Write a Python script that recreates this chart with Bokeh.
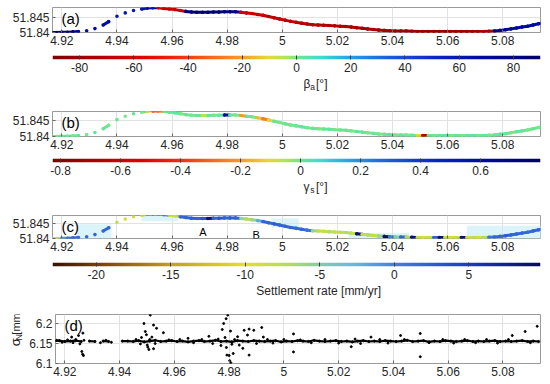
import numpy as np
from bokeh.plotting import figure
from bokeh.layouts import column, row
from bokeh.models import (LinearColorMapper, FixedTicker, CustomJSTickFormatter,
                          Label, Range1d, ColumnDataSource)
from bokeh.core.properties import value
from bokeh.transform import transform
from bokeh.embed import file_html
from bokeh.resources import INLINE

FONT = "Liberation Sans"
TXT = "#262626"

# ---------------- data ----------------
lon = [4.916, 4.918, 4.920, 4.922, 4.924, 4.926, 4.929, 4.932, 4.935, 4.937,
       4.940, 4.943, 4.946, 4.949, 4.951, 4.953, 4.955, 4.957, 4.959, 4.961,
       4.963, 4.965, 4.967, 4.969, 4.971, 4.973, 4.975, 4.977, 4.979, 4.981,
       4.983, 4.985, 4.987, 4.989, 4.991, 4.993, 4.995, 4.997, 4.999, 5.001,
       5.003, 5.005, 5.007, 5.009, 5.011, 5.013, 5.015, 5.017, 5.019, 5.021,
       5.023, 5.025, 5.027, 5.029, 5.031, 5.033, 5.035, 5.037, 5.039, 5.041,
       5.043, 5.045, 5.047, 5.049, 5.051, 5.053, 5.055, 5.057, 5.059, 5.061,
       5.063, 5.065, 5.067, 5.069, 5.071, 5.073, 5.075, 5.077, 5.079, 5.081,
       5.083, 5.085, 5.087, 5.089, 5.091, 5.093, 5.095]

lat = [51.8400, 51.8400, 51.8401, 51.8401, 51.8402, 51.8403, 51.8406, 51.8413, 51.8425, 51.8436,
       51.8454, 51.8465, 51.8473, 51.8478, 51.8481, 51.8482, 51.8482, 51.8480, 51.8478, 51.8476,
       51.8473, 51.8470, 51.8468, 51.8467, 51.8467, 51.8467, 51.8468, 51.8468, 51.8469, 51.8469,
       51.8469, 51.8467, 51.8465, 51.8463, 51.8460, 51.8457, 51.8453, 51.8449, 51.8445, 51.8441,
       51.8437, 51.8434, 51.8431, 51.8428, 51.8426, 51.8425, 51.8424, 51.8423, 51.8422, 51.8421,
       51.8420, 51.8418, 51.8416, 51.8414, 51.8412, 51.8410, 51.8408, 51.8407, 51.8406, 51.8405,
       51.8405, 51.8405, 51.8404, 51.8403, 51.8403, 51.8403, 51.8403, 51.8403, 51.8403, 51.8403,
       51.8403, 51.8403, 51.8403, 51.8403, 51.8403, 51.8403, 51.8404, 51.8405, 51.8407, 51.8409,
       51.8412, 51.8415, 51.8418, 51.8421, 51.8425, 51.8429, 51.8433]

beta_a = [85, 85, 85, 84, 83, 72, 70, 68, 66, 65,
          62, 62, 60, 62, 65, 68, -62, -65, -66, -66,
          -64, 80, 84, 85, 84, 85, 85, 84, 82, 80,
          78, -62, -64, -65, -66, -66, -67, -68, -68, -69,
          -69, -70, -70, -71, -71, -72, -72, -73, -73, -74,
          -74, -75, -75, -76, -76, -77, -77, -78, -78, -79,
          -79, -80, -80, -80, -81, -81, -81, -81, -81, -80,
          -80, -80, -79, -79, -78, -76, -74, 75, 74, 72,
          70, 70, 69, 68, 68, 67, 67]

gamma_s = [0.00, -0.01, 0.00, 0.01, -0.01, 0.00, -0.01, 0.01, 0.00, -0.01,
           0.00, -0.01, 0.01, -0.01, -0.12, -0.35, -0.28, -0.01, 0.00, 0.01,
           -0.01, 0.00, -0.01, 0.00, -0.06, 0.00, -0.01, 0.00, 0.60, 0.00,
           -0.01, -0.20, 0.00, -0.01, -0.15, -0.25, -0.12, 0.00, -0.01, 0.00,
           -0.01, 0.00, 0.01, -0.01, 0.00, -0.01, 0.00, 0.01, -0.01, 0.00,
           0.00, -0.01, 0.01, 0.00, -0.01, 0.00, -0.01, 0.00, 0.01, -0.01,
           0.00, -0.01, 0.00, -0.12, -0.65, 0.00, -0.01, 0.00, 0.01, -0.01,
           0.00, -0.01, 0.00, 0.01, -0.01, 0.00, -0.01, 0.00, 0.01, 0.00,
           -0.01, 0.00, 0.01, -0.01, 0.00, -0.01, 0.00]

settlement_rate = [-9, -8, -1, 1, 1.5, 1.5, 2, 2, 2, 2,
                   -8, -9, -9, -8, 1, 2, 2, 1, -9, -8,
                   2, 2, 2.5, 2, 3, 9, 2, 3, 2, 2.5,
                   2, -6, -7, -6, -2, 2, 2, 2.5, 2, 2,
                   2, 1.5, 2, 1, -6, -8, -8, -7, -8, -8,
                   -7, -8, 9, -8, -7, -8, -6, 9, 0, -5,
                   2, -7, 9, -8, -9, -8, 2, 9, -8, -9,
                   -8, 9, -9, -8, -9, -7, 1, 2, 2, 2.5,
                   2, 2, 2, 1.5, 2, 2, 2]

# light shaded patches behind the track in panel (c)
shade_left = [4.925, 4.949, 4.996, 5.024, 5.067]
shade_right = [4.938, 4.962, 5.006, 5.046, 5.094]
shade_bottom = [51.8400, 51.8458, 51.8437, 51.8400, 51.8400]
shade_top = [51.8448, 51.8477, 51.8467, 51.8418, 51.8443]

# sigma_N: dense core and scattered points
core_lon = [4.916, 4.918, 4.920, 4.922, 4.924, 4.926, 4.929, 4.931, 4.934, 4.936, 4.941, 4.943,
            4.945, 4.947, 4.949, 4.951, 4.953, 4.955, 4.957, 4.959, 4.961, 4.963,
            4.965, 4.967, 4.969, 4.971, 4.973, 4.975, 4.977, 4.979, 4.981, 4.983,
            4.985, 4.987, 4.989, 4.991, 4.993, 4.995, 4.997, 4.999, 5.001, 5.003,
            5.005, 5.007, 5.009, 5.011, 5.013, 5.015, 5.017, 5.019, 5.021, 5.023,
            5.025, 5.027, 5.029, 5.031, 5.033, 5.035, 5.037, 5.039, 5.041, 5.043,
            5.045, 5.047, 5.049, 5.051, 5.053, 5.055, 5.057, 5.059, 5.061, 5.063,
            5.065, 5.067, 5.069, 5.071, 5.073, 5.075, 5.077, 5.079, 5.081, 5.083,
            5.085, 5.087, 5.089, 5.091, 5.093]
core_sigma = [6.156, 6.157, 6.155, 6.156, 6.157, 6.155, 6.156, 6.155, 6.156, 6.155, 6.156, 6.156,
              6.155, 6.157, 6.154, 6.156, 6.158, 6.155, 6.156, 6.157, 6.155, 6.156,
              6.154, 6.156, 6.157, 6.155, 6.156, 6.158, 6.155, 6.156, 6.154, 6.157,
              6.156, 6.155, 6.157, 6.156, 6.155, 6.156, 6.157, 6.154, 6.156, 6.155,
              6.157, 6.156, 6.155, 6.158, 6.156, 6.155, 6.156, 6.157, 6.155, 6.156,
              6.154, 6.156, 6.157, 6.155, 6.156, 6.155, 6.157, 6.156, 6.155, 6.156,
              6.158, 6.155, 6.156, 6.157, 6.154, 6.156, 6.155, 6.157, 6.156, 6.155,
              6.156, 6.157, 6.155, 6.156, 6.155, 6.156, 6.157, 6.155, 6.156, 6.155,
              6.156, 6.157, 6.155, 6.156, 6.155]
scat_lon = [4.917, 4.919, 4.921, 4.9225, 4.923, 4.924, 4.925, 4.9255, 4.9262, 4.9265, 4.9268, 4.9266, 4.927,
            4.933, 4.935, 4.937,
            4.946, 4.9476, 4.948, 4.9489, 4.9494, 4.9498, 4.9501, 4.9503, 4.9507, 4.951, 4.9512, 4.9518,
            4.9524, 4.9524, 4.953, 4.9535, 4.956, 4.958,
            4.962, 4.965, 4.967, 4.970, 4.9726, 4.974, 4.976,
            4.977, 4.9775, 4.978, 4.9785, 4.9789, 4.979, 4.9792, 4.9795, 4.980, 4.9802, 4.9806, 4.9805,
            4.981, 4.9815, 4.982,
            4.9831, 4.9837, 4.985, 4.9855, 4.9867, 4.9873, 4.9873, 4.989, 4.990, 4.9919, 4.9925, 4.994, 4.996,
            5.000, 5.0035, 5.0035, 5.006, 5.010, 5.015, 5.020, 5.0246, 5.026, 5.028, 5.0318, 5.035, 5.038,
            5.0426, 5.044, 5.0498, 5.0498, 5.053, 5.058, 5.062, 5.066, 5.070, 5.074, 5.078, 5.082, 5.0834,
            5.0881, 5.090, 5.0925]
scat_sigma = [6.158, 6.153, 6.159, 6.166, 6.152, 6.160, 6.170, 6.149, 6.130, 6.123, 6.120, 6.176, 6.158,
              6.152, 6.158, 6.153,
              6.160, 6.149, 6.165, 6.200, 6.180, 6.172, 6.146, 6.141, 6.135, 6.160, 6.221, 6.166,
              6.196, 6.137, 6.150, 6.188, 6.177, 6.159,
              6.160, 6.163, 6.152, 6.160, 6.168, 6.150, 6.161,
              6.145, 6.185, 6.200, 6.165, 6.212, 6.140, 6.121, 6.221, 6.120, 6.107, 6.102, 6.181,
              6.148, 6.125, 6.160,
              6.167, 6.146, 6.138, 6.183, 6.171, 6.186, 6.121, 6.183, 6.150, 6.190, 6.166, 6.160, 6.151,
              6.160, 6.174, 6.129, 6.159, 6.152, 6.160, 6.151, 6.142, 6.161, 6.150, 6.166, 6.160, 6.151,
              6.170, 6.160, 6.175, 6.117, 6.152, 6.160, 6.151, 6.160, 6.152, 6.160, 6.151, 6.160, 6.170,
              6.180, 6.152, 6.193]

x_ticks = [4.92, 4.94, 4.96, 4.98, 5.00, 5.02, 5.04, 5.06, 5.08]
lat_ticks = [51.84, 51.845]
sigma_ticks = [6.1, 6.15, 6.2]
beta_ticks = [-80, -60, -40, -20, 0, 20, 40, 60, 80]
gamma_ticks = [-0.8, -0.6, -0.4, -0.2, 0, 0.2, 0.4, 0.6]
rate_ticks = [-20, -15, -10, -5, 0, 5]

X_RANGE = (4.9166, 5.0937)
BETA_RANGE = (-90, 90)
GAMMA_RANGE = (-0.8267, 0.8)
RATE_RANGE = (-22.93, 9.8)

# ---------------- colormaps ----------------
JETR = [(0.00, (128, 0, 0)), (0.10, (180, 0, 0)), (0.18, (225, 0, 0)), (0.24, (240, 30, 15)),
        (0.31, (245, 90, 30)), (0.38, (245, 150, 40)), (0.44, (232, 215, 50)), (0.48, (170, 230, 90)),
        (0.51, (100, 230, 150)), (0.55, (60, 220, 210)), (0.60, (40, 170, 230)), (0.68, (30, 100, 220)),
        (0.78, (10, 40, 200)), (0.88, (0, 10, 160)), (1.00, (0, 0, 100))]
RATEMAP = [(0.00, (55, 20, 5)), (0.09, (120, 60, 10)), (0.24, (190, 160, 30)), (0.39, (225, 225, 40)),
           (0.48, (185, 220, 90)), (0.55, (130, 205, 170)), (0.62, (100, 185, 225)), (0.70, (65, 130, 220)),
           (0.85, (30, 60, 200)), (1.00, (10, 10, 90))]


def palette_from(anchors, n=256):
    pos = [a[0] for a in anchors]
    cols = np.array([a[1] for a in anchors], dtype=float)
    out = []
    for t in np.linspace(0, 1, n):
        r, g, b = (int(round(np.interp(t, pos, cols[:, k]))) for k in range(3))
        out.append("#%02x%02x%02x" % (r, g, b))
    return out


PAL_JET = palette_from(JETR)
PAL_RATE = palette_from(RATEMAP)

W = 550


def style_axis(ax, ticks):
    ax.ticker = FixedTicker(ticks=ticks)
    ax.formatter = CustomJSTickFormatter(code="return Number(tick.toFixed(3)).toString();")
    ax.axis_line_color = None
    ax.major_tick_in = 3
    ax.major_tick_out = 0
    ax.minor_tick_line_color = None
    ax.major_tick_line_color = "#666666"
    ax.major_label_text_font = FONT
    ax.major_label_text_font_size = "12px"
    ax.major_label_text_color = TXT
    ax.major_label_standoff = 3


def panel(height, top, bottom, yr, yticks, tag, width=W, left=52):
    p = figure(width=width, height=height, x_range=Range1d(*X_RANGE), y_range=Range1d(*yr),
               output_backend="svg", toolbar_location=None,
               min_border_left=left, min_border_right=10, min_border_top=top, min_border_bottom=bottom)
    style_axis(p.xaxis[0], x_ticks)
    style_axis(p.yaxis[0], yticks)
    p.xgrid.grid_line_color = "#e2e2e2"
    p.ygrid.grid_line_color = "#e2e2e2"
    p.outline_line_color = "#9a9a9a"
    p.outline_line_width = 1
    p.add_layout(Label(x=X_RANGE[0], y=yr[1], x_offset=9, y_offset=-2, text=tag,
                       text_font=FONT, text_font_size="15px", text_color="#000000",
                       text_baseline="top", text_align="left"))
    return p


def draw_track(p, vals, palette, lo, hi):
    mapper = LinearColorMapper(palette=palette, low=lo, high=hi)
    idx = [i for i in range(len(lon) - 1) if lon[i + 1] - lon[i] < 0.0025]
    seg = ColumnDataSource(dict(x0=[lon[i] for i in idx], y0=[lat[i] for i in idx],
                                x1=[lon[i + 1] for i in idx], y1=[lat[i + 1] for i in idx],
                                v=[vals[i] for i in idx]))
    p.segment("x0", "y0", "x1", "y1", source=seg, line_color=transform("v", mapper),
              line_width=3, line_cap="round")
    pts = ColumnDataSource(dict(x=lon, y=lat, v=vals))
    p.scatter("x", "y", source=pts, size=3.6, fill_color=transform("v", mapper), line_color=None)


def cbar(rng, palette, ticks):
    lo, hi = rng
    p = figure(width=W, height=21, x_range=Range1d(lo, hi), y_range=Range1d(0, 1),
               output_backend="svg", toolbar_location=None, y_axis_location=None,
               min_border_left=52, min_border_right=10, min_border_top=0, min_border_bottom=17)
    mapper = LinearColorMapper(palette=palette, low=lo, high=hi)
    p.image(image=[np.linspace(lo, hi, 256).reshape(1, -1)], x=lo, y=0, dw=hi - lo, dh=1,
            color_mapper=mapper)
    p.grid.visible = False
    p.outline_line_color = None
    ax = p.xaxis[0]
    style_axis(ax, ticks)
    ax.major_tick_in = 4
    ax.major_tick_line_color = "#3a3a3a"
    ax.major_label_standoff = 3
    return p


def text_strip(width, height):
    p = figure(width=width, height=height, x_range=Range1d(0, width), y_range=Range1d(0, height),
               output_backend="svg", toolbar_location=None, x_axis_location=None, y_axis_location=None,
               min_border_left=0, min_border_right=0, min_border_top=0, min_border_bottom=0)
    p.grid.visible = False
    p.outline_line_color = None
    return p


def put_text(p, x, y, txt, size, align="left", angle=0.0):
    p.text(x=[x], y=[y], text=[txt], text_font=value(FONT), text_font_size=size,
           text_color=TXT, text_align=align, text_baseline="middle", angle=angle)


def sub_title(main, sub, rest):
    s = text_strip(W, 16)
    put_text(s, 283, 8.5, main, "12px")
    put_text(s, 290.5, 5.5, sub, "8.5px")
    put_text(s, 297, 8.5, rest, "12px")
    return s


# (a)
pa = panel(55, 7, 23, (51.84, 51.8483), lat_ticks, "(a)")
draw_track(pa, beta_a, PAL_JET, *BETA_RANGE)
cba = cbar(BETA_RANGE, PAL_JET, beta_ticks)
ta = sub_title("β", "a", "[°]")

# (b)
pb = panel(66, 19, 22, (51.84, 51.848), lat_ticks, "(b)")
draw_track(pb, gamma_s, PAL_JET, *GAMMA_RANGE)
cbb = cbar(GAMMA_RANGE, PAL_JET, gamma_ticks)
tb = sub_title("γ", "s", "[°]")

# (c)
pc = panel(67, 20, 24, (51.84, 51.8477), lat_ticks, "(c)")
pc.quad(left=shade_left, right=shade_right, bottom=shade_bottom, top=shade_top,
        fill_color="#daf4fa", line_color=None, level="underlay")
draw_track(pc, settlement_rate, PAL_RATE, *RATE_RANGE)
for t, x, y in (("A", 4.9712, 51.8423), ("B", 4.9905, 51.8413)):
    pc.add_layout(Label(x=x, y=y, text=t, text_font=FONT, text_font_size="11px",
                        text_color="#000000", text_align="center", text_baseline="middle"))
cbc = cbar(RATE_RANGE, PAL_RATE, rate_ticks)
tc = text_strip(W, 16)
put_text(tc, 300, 8.5, "Settlement rate [mm/yr]", "12px", align="center")

# (d)
pd_ = panel(85, 15, 21, (6.1, 6.2225), sigma_ticks, "(d)", width=W - 26, left=26)
idx = [i for i in range(len(core_lon) - 1) if core_lon[i + 1] - core_lon[i] < 0.0025]
pd_.segment(x0=[core_lon[i] for i in idx], y0=[core_sigma[i] for i in idx],
            x1=[core_lon[i + 1] for i in idx], y1=[core_sigma[i + 1] for i in idx],
            line_color="#000000", line_width=2.2)
pd_.scatter(core_lon, core_sigma, size=2.2, color="#000000")
pd_.scatter(scat_lon, scat_sigma, size=2.0, color="#000000")
ylab = text_strip(26, 85)
put_text(ylab, 15, 30, "σ", "13px", angle=np.pi / 2)
put_text(ylab, 18, 40, "N", "9px", angle=np.pi / 2)
put_text(ylab, 15, 50, "[mm]", "11px", angle=np.pi / 2)

layout = column(pa, cba, ta, pb, cbb, tb, pc, cbc, tc, row(ylab, pd_, spacing=0), spacing=0)

with open("out.html", "w") as f:
    f.write(file_html(layout, INLINE))
